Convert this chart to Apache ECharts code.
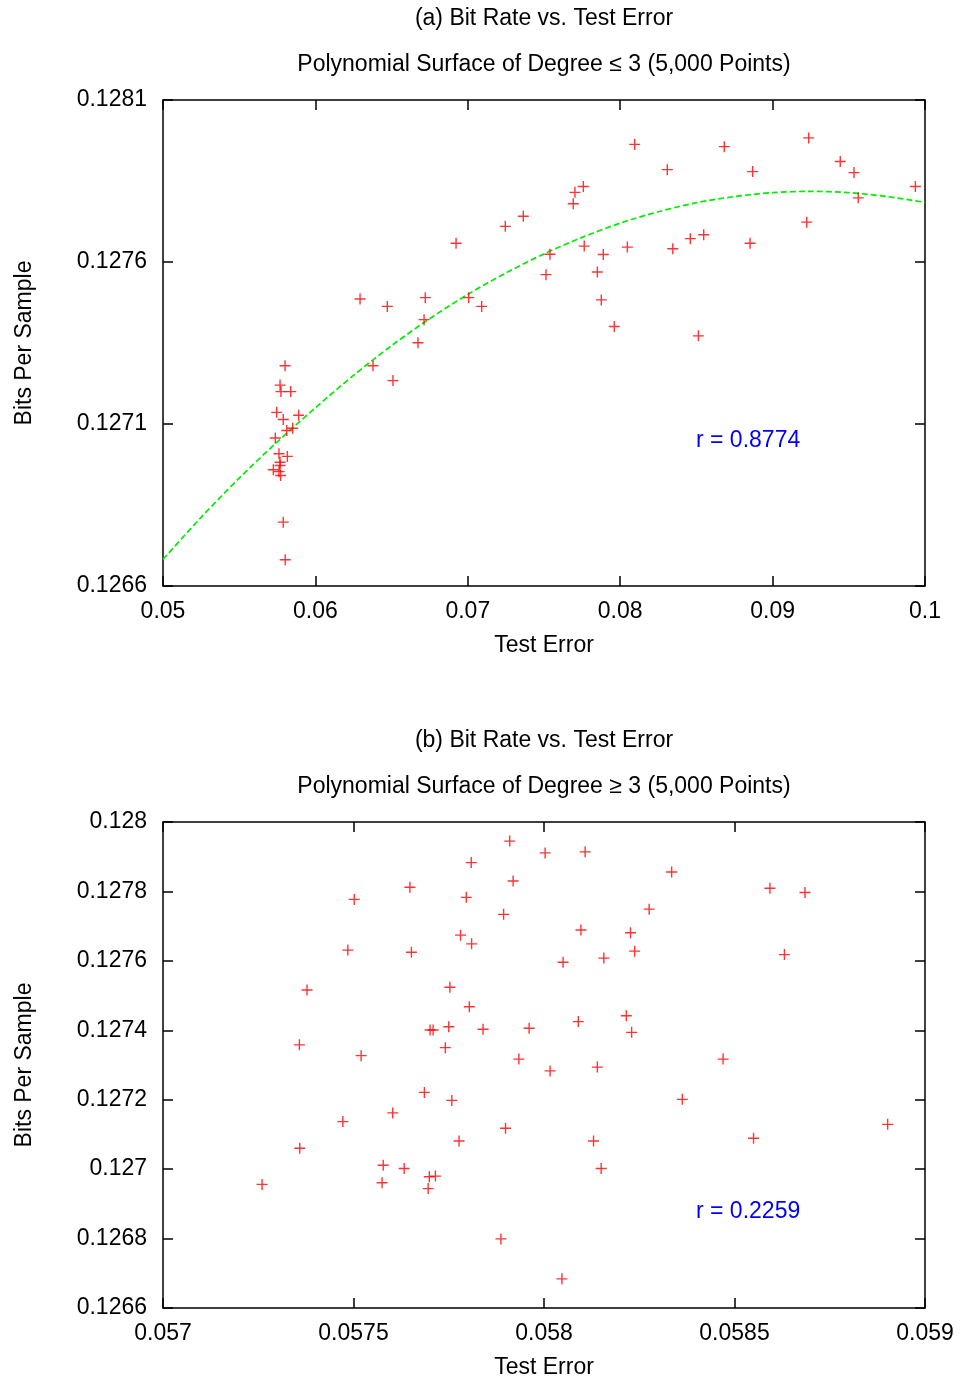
<!DOCTYPE html>
<html>
<head>
<meta charset="utf-8">
<title>Bit Rate vs. Test Error</title>
<script src="https://cdn.jsdelivr.net/npm/echarts@6/dist/echarts.min.js"></script>
<style>
  html, body { margin: 0; padding: 0; background: #fff; }
  #chart { width: 960px; height: 1379px; }
</style>
</head>
<body>
<div id="chart"></div>
<script>
// Panel (a): degree <= 3 surfaces
const topTestError = [
  0.05801, 0.05768, 0.05774, 0.05838, 0.05746, 0.05789, 0.05890, 0.05812, 0.05851, 0.05737,
  0.05761, 0.05816, 0.05768, 0.05768, 0.05724, 0.05761, 0.05772, 0.05789, 0.05802, 0.08095,
  0.07703, 0.07758, 0.07692, 0.07364, 0.07246, 0.06923, 0.07764, 0.08047, 0.07889, 0.07539,
  0.07850, 0.07513, 0.06293, 0.06721, 0.06472, 0.07006, 0.07091, 0.07876, 0.06713, 0.07961,
  0.06673, 0.06378, 0.06509, 0.09237, 0.08683, 0.08309, 0.08869, 0.09444, 0.09534, 0.09937,
  0.09562, 0.09224, 0.08548, 0.08460, 0.08345, 0.08852, 0.08513
];
const topBitsPerSample = [
  0.127280, 0.127220, 0.127200, 0.127200, 0.127136, 0.127114, 0.127127, 0.127080, 0.127087, 0.127057,
  0.127008, 0.127000, 0.126982, 0.126972, 0.126959, 0.126953, 0.126941, 0.126797, 0.126681, 0.127963,
  0.127815, 0.127833, 0.127780, 0.127741, 0.127710, 0.127658, 0.127649, 0.127646, 0.127623, 0.127624,
  0.127569, 0.127561, 0.127486, 0.127490, 0.127463, 0.127490, 0.127463, 0.127483, 0.127422, 0.127401,
  0.127351, 0.127280, 0.127234, 0.127983, 0.127956, 0.127885, 0.127879, 0.127910, 0.127876, 0.127833,
  0.127798, 0.127723, 0.127684, 0.127672, 0.127641, 0.127658, 0.127372
];
// fitted trend curve of panel (a)
const fitTestError = [
  0.0500, 0.0525, 0.0550, 0.0575, 0.0600, 0.0625, 0.0650, 0.0675, 0.0700, 0.0725, 0.0750,
  0.0775, 0.0800, 0.0825, 0.0850, 0.0875, 0.0900, 0.0925, 0.0950, 0.0975, 0.1000
];
const fitBitsPerSample = [
  0.126682, 0.126812, 0.126933, 0.127045, 0.127150, 0.127250, 0.127342, 0.127425, 0.127500, 0.127566, 0.127625,
  0.127676, 0.127720, 0.127755, 0.127783, 0.127802, 0.127814, 0.127818, 0.127814, 0.127802, 0.127784
];
const topR = 'r = 0.8774';

// Panel (b): degree >= 3 surfaces
const botTestError = [
  0.057260, 0.057359, 0.057358, 0.057378, 0.057472, 0.057485, 0.057502, 0.057520, 0.057578, 0.057575,
  0.057603, 0.057633, 0.057648, 0.057652, 0.057686, 0.057696, 0.057699, 0.057715, 0.057701, 0.057709,
  0.057741, 0.057750, 0.057753, 0.057758, 0.057777, 0.057781, 0.057796, 0.057804, 0.057809, 0.057810,
  0.057840, 0.057887, 0.057894, 0.057899, 0.057910, 0.057919, 0.057934, 0.057961, 0.058003, 0.058016,
  0.058050, 0.058047, 0.058090, 0.058097, 0.058108, 0.058130, 0.058140, 0.058150, 0.058157, 0.058216,
  0.058227, 0.058230, 0.058238, 0.058276, 0.058335, 0.058363, 0.058470, 0.058550, 0.058593, 0.058631,
  0.058685, 0.058902
];
const botBitsPerSample = [
  0.126956, 0.127060, 0.127358, 0.127516, 0.127137, 0.127631, 0.127777, 0.127327, 0.127011, 0.126961,
  0.127162, 0.127002, 0.127812, 0.127625, 0.127221, 0.126944, 0.126978, 0.126980, 0.127401, 0.127401,
  0.127350, 0.127410, 0.127524, 0.127198, 0.127081, 0.127674, 0.127783, 0.127468, 0.127883, 0.127649,
  0.127403, 0.126799, 0.127734, 0.127118, 0.127945, 0.127830, 0.127317, 0.127406, 0.127911, 0.127283,
  0.127596, 0.126684, 0.127425, 0.127689, 0.127914, 0.127081, 0.127294, 0.127002, 0.127608, 0.127442,
  0.127681, 0.127394, 0.127628, 0.127749, 0.127856, 0.127201, 0.127317, 0.127089, 0.127809, 0.127618,
  0.127797, 0.127129
];
const botR = 'r = 0.2259';

// tick labels
const topXTickLabels = ['0.05', '0.06', '0.07', '0.08', '0.09', '0.1'];
const topYTickLabels = ['0.1266', '0.1271', '0.1276', '0.1281'];
const botXTickLabels = ['0.057', '0.0575', '0.058', '0.0585', '0.059'];
const botYTickLabels = ['0.1266', '0.1268', '0.127', '0.1272', '0.1274', '0.1276', '0.1278', '0.128'];

// text
const topTitle = '(a) Bit Rate vs. Test Error';
const topSubtitle = 'Polynomial Surface of Degree \u2264 3 (5,000 Points)';
const botTitle = '(b) Bit Rate vs. Test Error';
const botSubtitle = 'Polynomial Surface of Degree \u2265 3 (5,000 Points)';
const xName = 'Test Error';
const yName = 'Bits Per Sample';

// Axes work in shifted units so every tick sits on a whole multiple of the interval.
const topX = v => v * 1000;              // 50 .. 100, step 10
const topY = v => v * 10000 - 1266;      // 0 .. 15, step 5
const botX = v => (v - 0.057) * 10000;   // 0 .. 20, step 5
const botY = v => v * 10000 - 1266;      // 0 .. 14, step 2

const FONT = '"Liberation Sans", Arial, Helvetica, sans-serif';
const FS = 23;
const PLUS = 'path://M0,4.8H11V6.2H0Z M4.8,0H6.2V11H4.8Z';

const grids = [
  { left: 163, top: 100, width: 762, height: 486 },
  { left: 163, top: 822, width: 762, height: 486 }
];

function pickLabel(labels, min, step) {
  return v => {
    const i = Math.round((v - min) / step);
    return labels[i] !== undefined ? labels[i] : '';
  };
}

function xAxisPair(gridIndex, min, max, step, labels) {
  const base = {
    gridIndex, type: 'value', min, max, interval: step,
    axisLine: { show: true, onZero: false, lineStyle: { color: '#000', width: 1.5 } },
    axisTick: { show: true, inside: true, length: 10, lineStyle: { color: '#000', width: 1.5 } },
    splitLine: { show: false }
  };
  return [
    Object.assign({}, base, {
      position: 'bottom',
      axisLabel: { show: true, margin: 14, color: '#000', fontFamily: FONT, fontSize: FS,
        formatter: pickLabel(labels, min, step) }
    }),
    Object.assign({}, base, { position: 'top', axisLabel: { show: false } })
  ];
}

function yAxisPair(gridIndex, min, max, step, labels) {
  const base = {
    gridIndex, type: 'value', min, max, interval: step,
    axisLine: { show: true, onZero: false, lineStyle: { color: '#000', width: 1.5 } },
    axisTick: { show: true, inside: true, length: 10, lineStyle: { color: '#000', width: 1.5 } },
    splitLine: { show: false }
  };
  return [
    Object.assign({}, base, {
      position: 'left',
      axisLabel: { show: true, margin: 16, color: '#000', fontFamily: FONT, fontSize: FS,
        formatter: pickLabel(labels, min, step) }
    }),
    Object.assign({}, base, { position: 'right', axisLabel: { show: false } })
  ];
}

function text(str, x, y, opts) {
  return Object.assign({
    type: 'text', x, y, silent: true,
    style: Object.assign({
      text: str, fill: '#000', font: FS + 'px ' + FONT,
      align: 'center', verticalAlign: 'middle',
      textAlign: 'center', textVerticalAlign: 'middle'
    }, (opts && opts.style) || {})
  }, opts && opts.rotation !== undefined ? { rotation: opts.rotation } : {});
}

const topPoints = topTestError.map((x, i) => [topX(x), topY(topBitsPerSample[i])]);
const fitLine = fitTestError.map((x, i) => [topX(x), topY(fitBitsPerSample[i])]);
const botPoints = botTestError.map((x, i) => [botX(x), botY(botBitsPerSample[i])]);

const option = {
  backgroundColor: '#fff',
  animation: false,
  grid: grids,
  xAxis: [
    ...xAxisPair(0, 50, 100, 10, topXTickLabels),
    ...xAxisPair(1, 0, 20, 5, botXTickLabels)
  ],
  yAxis: [
    ...yAxisPair(0, 0, 15, 5, topYTickLabels),
    ...yAxisPair(1, 0, 14, 2, botYTickLabels)
  ],
  series: [
    {
      type: 'scatter', xAxisIndex: 0, yAxisIndex: 0, data: topPoints,
      symbol: PLUS, symbolSize: 11, itemStyle: { color: '#ff0000' }, z: 3
    },
    {
      type: 'line', xAxisIndex: 0, yAxisIndex: 0, data: fitLine,
      smooth: 0.3, showSymbol: false, symbol: 'none', clip: true,
      lineStyle: { color: '#00ee00', width: 1.7, type: [6, 3] }, z: 2
    },
    {
      type: 'scatter', xAxisIndex: 2, yAxisIndex: 2, data: botPoints,
      symbol: PLUS, symbolSize: 11, itemStyle: { color: '#ff0000' }, z: 3
    }
  ],
  graphic: [
    text(topTitle, 544, 19),
    text(topSubtitle, 544, 65),
    text(xName, 544, 646),
    text(yName, 25, 343, { rotation: Math.PI / 2 }),
    text(topR, 696, 441, { style: { fill: '#0000ff', align: 'left', textAlign: 'left' } }),
    text(botTitle, 544, 741),
    text(botSubtitle, 544, 787),
    text(xName, 544, 1368),
    text(yName, 25, 1065, { rotation: Math.PI / 2 }),
    text(botR, 696, 1212, { style: { fill: '#0000ff', align: 'left', textAlign: 'left' } })
  ]
};

const chart = echarts.init(document.getElementById('chart'), null, { renderer: 'canvas' });
chart.setOption(option);
</script>
</body>
</html>
